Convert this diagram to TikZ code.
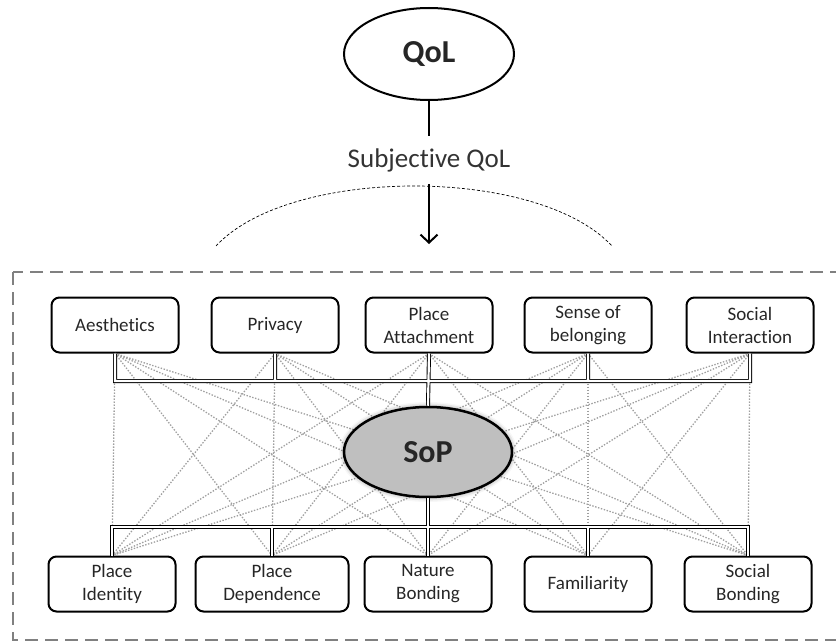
\documentclass[tikz,border=0pt]{standalone}
\usepackage{fontspec}
\setmainfont{Carlito}[Ligatures=NoCommon]
\usetikzlibrary{shapes.geometric}
\usetikzlibrary{arrows.meta}
\usetikzlibrary{shadows.blur}

\tikzset{
    factor/.style={draw, line width=2pt, rounded corners=8pt,
        minimum width=127pt, minimum height=55pt, inner sep=2pt,
        align=center, text=black!85, font=\fontsize{19}{23}\selectfont},
    concept/.style={ellipse, draw, line width=2pt, minimum width=170pt,
        minimum height=92pt, inner sep=0pt, text=black!85,
        font=\fontsize{32}{36}\selectfont\bfseries},
    link/.style={color=gray!75, line width=1.3pt, dash pattern=on 1.4pt off 1.6pt},
    bus/.style={line width=0.9pt, double=white, double distance=2.2pt},
}

\begin{document}
\begin{tikzpicture}[x=1pt, y=-1pt]
    \useasboundingbox (0,0) rectangle (836,642);
    \draw[color=gray, line width=2.5pt, dash pattern=on 13pt off 7pt]
        (13,272) rectangle (870,640);
    \draw[line width=0.7pt, dash pattern=on 3pt off 2pt]
        (216,246) .. controls (290,166) and (538,166) .. (612,246);

    \node[concept] (qol) at (429,54) {QoL};
    \node[anchor=base, text=black!80, inner xsep=2pt, inner ysep=12pt,
        font=\fontsize{27}{30}\selectfont] (subj) at (429,167) {Subjective QoL};
    \coordinate (tip) at (429,244);
    \draw[line width=2pt] (qol.south) -- (subj.north);
    \draw[line width=2pt, -{Straight Barb[length=8pt,width=17pt]}] (subj.south) -- (tip);

    \node[factor] (aesth) at (115,325) {Aesthetics};
    \node[factor] (priv) at (275,325) {Privacy};
    \node[factor] (attach) at (429,325) {Place\\Attachment};
    \node[factor] (belong) at (588,325) {Sense of\\belonging};
    \node[factor] (interact) at (750,325) {Social\\Interaction};

    \node[factor] (ident) at (112,584) {Place\\Identity};
    \node[factor, minimum width=153pt] (depend) at (272,584) {Place\\Dependence};
    \node[factor] (nature) at (428,584) {Nature\\Bonding};
    \node[factor] (famil) at (588,584) {Familiarity};
    \node[factor] (bonding) at (748,584) {Social\\Bonding};

    \foreach \t in {aesth,priv,attach,belong,interact}
        \foreach \b in {ident,depend,nature,famil,bonding}
            \draw[link] (\t.south) -- (\b.north);

    \node[concept, fill=gray!50, line width=2.5pt, minimum width=168pt,
        minimum height=90pt,
        blur shadow={shadow xshift=0pt, shadow yshift=0pt,
            shadow blur radius=5pt, shadow opacity=50}]
        (sop) at (428,452) {SoP};

    \coordinate (topbus) at (0,381);
    \coordinate (botbus) at (0,527);
    \draw[bus] (aesth.south) |- (interact.south |- topbus) -- (interact.south)
        (priv.south) -- (priv.south |- topbus)
        (belong.south) -- (belong.south |- topbus)
        (attach.south) -- (sop.north);
    \draw[bus] (ident.north) |- (bonding.north |- botbus) -- (bonding.north)
        (depend.north) -- (depend.north |- botbus)
        (famil.north) -- (famil.north |- botbus)
        (sop.south) -- (nature.north);
\end{tikzpicture}
\end{document}
